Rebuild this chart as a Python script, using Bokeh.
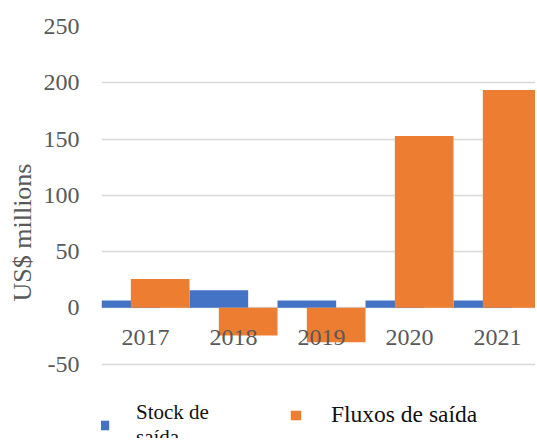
from bokeh.plotting import figure
from bokeh.models import ColumnDataSource, Range1d, FixedTicker, Legend, LegendItem
from bokeh.transform import dodge
from bokeh.core.properties import value
from bokeh.embed import file_html
from bokeh.resources import INLINE

years = [2017, 2018, 2019, 2020, 2021]
year_labels = ["2017", "2018", "2019", "2020", "2021"]
stock = [6.5, 15.7, 6.5, 6.5, 6.5]
fluxos = [25.7, -24.6, -30.5, 152.8, 193.6]
y_ticks = [-50, 0, 50, 100, 150, 200, 250]
y_tick_labels = ["-50", "0", "50", "100", "150", "200", "250"]
stock_label = "Stock de\nsaída"
fluxos_label = "Fluxos de saída"

BLUE = "#4472C4"
ORANGE = "#ED7D31"
GRID = "#D9D9D9"
TXT = "#595959"
FONT = "Liberation Serif"

src = ColumnDataSource(dict(year=years, label=year_labels, stock=stock, fluxos=fluxos))

W, H = 535, 438
ML, MT = 101, 26
frame_w = W - ML
frame_h = H - MT
cat_px = 88.0
px_per_unit = 337.6 / (y_ticks[-1] - y_ticks[0])

p = figure(width=W, height=H, output_backend="svg", toolbar_location=None,
           x_range=Range1d(years[0] - 0.5, years[0] - 0.5 + frame_w / cat_px),
           y_range=Range1d(y_ticks[-1] - frame_h / px_per_unit, y_ticks[-1]),
           min_border_left=ML, min_border_right=0, min_border_top=MT,
           min_border_bottom=0)
p.outline_line_color = None
p.background_fill_color = "white"
p.border_fill_color = "white"

r1 = p.vbar(x=dodge("year", -1/6, range=p.x_range), top="stock", bottom=0,
            width=2/3, source=src, fill_color=BLUE, line_color=None)
r2 = p.vbar(x=dodge("year", 1/6, range=p.x_range), top="fluxos", bottom=0,
            width=2/3, source=src, fill_color=ORANGE, line_color=None)

# category labels next to the zero line
p.text(x="year", y=0, text="label", source=src, text_align="center",
       text_baseline="alphabetic", y_offset=30, text_font=value(FONT),
       text_font_size="24px", text_color=TXT)

# grid
p.xgrid.visible = False
p.ygrid.ticker = FixedTicker(ticks=y_ticks)
p.ygrid.grid_line_color = GRID
p.ygrid.grid_line_width = 1.3

p.xaxis.visible = False

# y axis
ya = p.yaxis[0]
ya.ticker = FixedTicker(ticks=y_ticks)
ya.major_label_overrides = dict(zip(y_ticks, y_tick_labels))
ya.axis_line_color = None
ya.major_tick_line_color = None
ya.minor_tick_line_color = None
ya.major_tick_out = 0
ya.major_label_standoff = 22
ya.major_label_text_font = FONT
ya.major_label_text_font_size = "24px"
ya.major_label_text_color = TXT
ya.axis_label = "US$ millions"
ya.axis_label_text_font = FONT
ya.axis_label_text_font_size = "26px"
ya.axis_label_text_font_style = "normal"
ya.axis_label_text_color = TXT
ya.axis_label_standoff = 4

def mk_legend(item, loc, fs, standoff):
    lg = Legend(items=[item], location=loc, orientation="horizontal",
                glyph_width=13, glyph_height=12, label_standoff=standoff,
                padding=0, margin=0, spacing=0,
                border_line_color=None, background_fill_alpha=0,
                label_text_font=FONT, label_text_font_size=fs,
                label_text_color="#111111")
    p.add_layout(lg, "center")
    return lg

mk_legend(LegendItem(label=stock_label, renderers=[r1]), (-4, -12), "21px", 26)
mk_legend(LegendItem(label=fluxos_label, renderers=[r2]), (188, 10), "23.5px", 29)

open("out.html", "w").write(file_html(p, INLINE))
